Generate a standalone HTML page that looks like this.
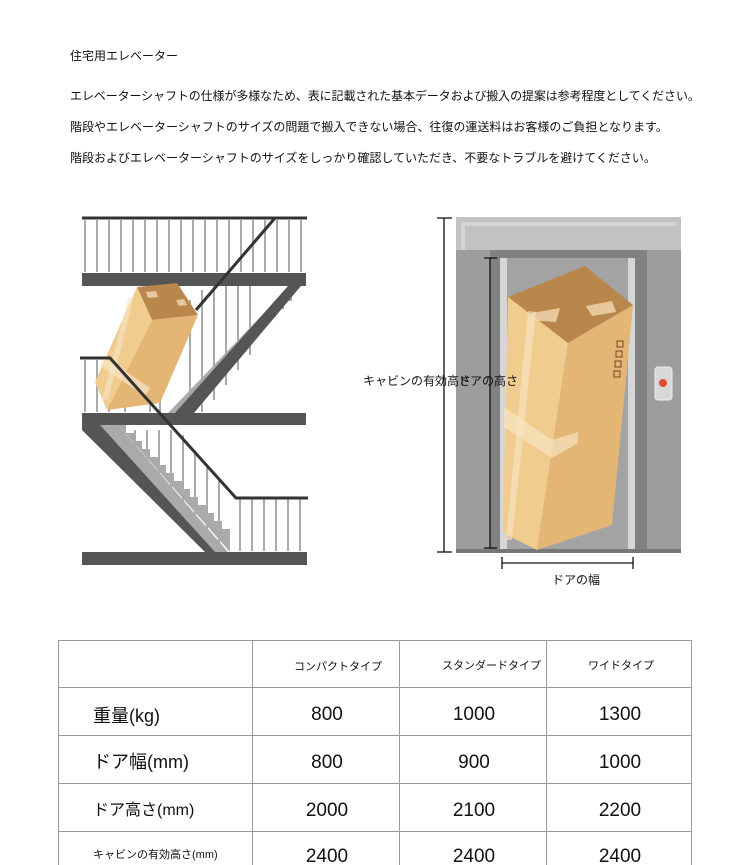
<!DOCTYPE html>
<html><head><meta charset="utf-8"><style>
body{margin:0;width:750px;height:865px;background:#fff;overflow:hidden;position:relative;font-family:"Liberation Sans","Noto Sans CJK JP",sans-serif;color:#111}
.t{position:absolute;font-size:12px;white-space:nowrap;line-height:14px}
svg{position:absolute;left:0;top:0}
</style></head><body>
<div class="t" style="left:70px;top:49px">住宅用エレベーター</div>
<div class="t" style="left:70px;top:89px;letter-spacing:-0.1px">エレベーターシャフトの仕様が多様なため、表に記載された基本データおよび搬入の提案は参考程度としてください。</div>
<div class="t" style="left:70px;top:120px">階段やエレベーターシャフトのサイズの問題で搬入できない場合、往復の運送料はお客様のご負担となります。</div>
<div class="t" style="left:70px;top:151px">階段およびエレベーターシャフトのサイズをしっかり確認していただき、不要なトラブルを避けてください。</div>

<svg width="750" height="865" viewBox="0 0 750 865">
<!-- STAIRS -->
<g stroke="#aaa" stroke-width="2">
<line x1="85" y1="220" x2="85" y2="272"/><line x1="97" y1="220" x2="97" y2="272"/><line x1="109" y1="220" x2="109" y2="272"/><line x1="121" y1="220" x2="121" y2="272"/><line x1="133" y1="220" x2="133" y2="272"/><line x1="145" y1="220" x2="145" y2="272"/><line x1="157" y1="220" x2="157" y2="272"/><line x1="169" y1="220" x2="169" y2="272"/><line x1="181" y1="220" x2="181" y2="272"/><line x1="193" y1="220" x2="193" y2="272"/><line x1="205" y1="220" x2="205" y2="272"/><line x1="217" y1="220" x2="217" y2="272"/><line x1="229" y1="220" x2="229" y2="272"/><line x1="241" y1="220" x2="241" y2="272"/><line x1="253" y1="220" x2="253" y2="272"/><line x1="265" y1="220" x2="265" y2="272"/><line x1="277" y1="220" x2="277" y2="272"/><line x1="289" y1="220" x2="289" y2="272"/><line x1="301" y1="220" x2="301" y2="272"/>
<line x1="190" y1="300" x2="190" y2="412"/><line x1="202" y1="290" x2="202" y2="412"/><line x1="214" y1="285" x2="214" y2="400"/><line x1="226" y1="280" x2="226" y2="385"/><line x1="238" y1="280" x2="238" y2="370"/><line x1="250" y1="280" x2="250" y2="355"/>
<line x1="85" y1="360" x2="85" y2="412"/><line x1="97" y1="360" x2="97" y2="412"/><line x1="109" y1="360" x2="109" y2="412"/>
<line x1="125" y1="370" x2="125" y2="412"/><line x1="150" y1="380" x2="150" y2="412"/><line x1="160" y1="385" x2="160" y2="412"/>
<line x1="135" y1="430" x2="135" y2="455"/><line x1="147" y1="430" x2="147" y2="470"/><line x1="159" y1="430" x2="159" y2="485"/><line x1="171" y1="430" x2="171" y2="500"/><line x1="183" y1="435" x2="183" y2="515"/><line x1="195" y1="450" x2="195" y2="530"/><line x1="207" y1="465" x2="207" y2="545"/><line x1="219" y1="480" x2="219" y2="550"/>
<line x1="240" y1="498" x2="240" y2="551"/><line x1="252" y1="498" x2="252" y2="551"/><line x1="264" y1="498" x2="264" y2="551"/><line x1="276" y1="498" x2="276" y2="551"/><line x1="288" y1="498" x2="288" y2="551"/><line x1="300" y1="498" x2="300" y2="551"/>
</g>
<polygon points="168,413 290,286 295,286 182,413" fill="#aaa"/>
<path d="M180,413 L180,405 L188,405 L188,397 L196,397 L196,389 L204,389 L204,381 L212,381 L212,373 L220,373 L220,365 L228,365 L228,357 L236,357 L236,349 L244,349 L244,341 L252,341 L252,333 L260,333 L260,325 L268,325 L268,317 L276,317 L276,309 L284,309 L284,301 L292,301 L292,293 L300,286 L175,413 Z" fill="#aaa"/>
<polygon points="100,425 118,425 228,552 210,552" fill="#aaa"/>
<path d="M118,425 L126,425 L126,433 L134,433 L134,441 L142,441 L142,449 L150,449 L150,457 L158,457 L158,465 L166,465 L166,473 L174,473 L174,481 L182,481 L182,489 L190,489 L190,497 L198,497 L198,505 L206,505 L206,513 L214,513 L214,521 L222,521 L222,529 L230,529 L230,552 Z" fill="#aaa"/>
<rect x="82" y="273" width="224" height="13" fill="#555"/>
<rect x="82" y="413" width="224" height="12" fill="#555"/>
<rect x="82" y="552" width="225" height="13" fill="#555"/>
<polygon points="288,286 306,286 306,280 194,413 175,413" fill="#555"/>
<polygon points="82,425 100,425 215,552 205,552 82,430" fill="#555"/>
<!-- box on stairs -->
<polygon points="137,287 177,283 198,315 152,320" fill="#b9874c"/>
<polygon points="95,382 137,287 152,320 107,410" fill="#f0cc8e"/>
<polygon points="152,320 198,315 160,403 107,410" fill="#e3b676"/>
<polygon points="104,356 150,388 145,396 100,366" fill="#f7e6c6" opacity=".7"/>
<polygon points="128,298 134,296 108,400 102,400" fill="#f7e6c6" opacity=".6"/>
<polygon points="146,292 156,291 158,297 148,298" fill="#f3d8b0" opacity=".8"/>
<polygon points="176,300 184,299 187,305 179,306" fill="#f3d8b0" opacity=".8"/>
<!-- rails -->
<g stroke="#333" stroke-width="3" fill="none">
<line x1="82" y1="218" x2="307" y2="218"/>
<polyline points="275,218 196,310"/>
<polyline points="80,358 110,358 236,498 308,498"/>
</g>

<!-- ELEVATOR -->
<rect x="456" y="217" width="225" height="335" fill="#9d9d9d"/>
<rect x="456" y="217" width="225" height="33" fill="#c2c2c2"/>
<polygon points="461,222 676,222 676,226 465,226 465,250 461,250" fill="#d4d4d4"/>
<rect x="490" y="250" width="157" height="302" fill="#818181"/>
<rect x="500" y="258" width="135" height="294" fill="#d6d6d6"/>
<rect x="507" y="258" width="121" height="294" fill="#a3a3a3"/>
<rect x="456" y="549" width="225" height="4" fill="#777"/>
<rect x="655" y="367" width="17" height="33" rx="3" fill="#d8d8d8" stroke="#eee"/>
<circle cx="663" cy="383" r="4" fill="#e04a2e"/>
<polygon points="508,297 585,266 633,305 568,343" fill="#b9874c"/>
<polygon points="508,297 568,343 537,550 503,533" fill="#f0cc8e"/>
<polygon points="568,343 633,305 612,525 537,550" fill="#e3b676"/>
<polygon points="532,313 560,308 556,322 528,320" fill="#f3d8b0" opacity=".8"/>
<polygon points="586,306 612,301 616,312 592,316" fill="#f3d8b0" opacity=".8"/>
<polygon points="528,311 536,312 512,540 506,540" fill="#f7e6c6" opacity=".6"/>
<polygon points="504,407 552,440 578,432 578,443 552,458 504,427" fill="#f7e6c6" opacity=".65"/>
<g fill="none" stroke="#6b4a20" stroke-width="1"><rect x="617" y="341" width="6" height="6"/><rect x="616" y="351" width="6" height="6"/><rect x="615" y="361" width="6" height="6"/><rect x="614" y="371" width="6" height="6"/></g>
<g stroke="#111" stroke-width="1.3">
<line x1="444" y1="218" x2="444" y2="552"/><line x1="437" y1="218" x2="452" y2="218"/><line x1="437" y1="552" x2="452" y2="552"/>
<line x1="490" y1="258" x2="490" y2="548"/><line x1="484" y1="258" x2="497" y2="258"/><line x1="484" y1="548" x2="497" y2="548"/>
<line x1="502" y1="563" x2="633" y2="563"/><line x1="502" y1="557" x2="502" y2="569"/><line x1="633" y1="557" x2="633" y2="569"/>
</g>
<text x="363" y="385" font-size="12" font-family="Liberation Sans,Noto Sans CJK JP,sans-serif" fill="#111">キャビンの有効高さ</text>
<text x="458" y="385" font-size="12" font-family="Liberation Sans,Noto Sans CJK JP,sans-serif" fill="#111">ドアの高さ</text>
<text x="552" y="584" font-size="12" font-family="Liberation Sans,Noto Sans CJK JP,sans-serif" fill="#111">ドアの幅</text>

<!-- TABLE -->
<g stroke="#999" stroke-width="1">
<line x1="58" y1="640.5" x2="692" y2="640.5"/><line x1="58" y1="687.5" x2="692" y2="687.5"/><line x1="58" y1="735.5" x2="692" y2="735.5"/><line x1="58" y1="783.5" x2="692" y2="783.5"/><line x1="58" y1="831.5" x2="692" y2="831.5"/>
<line x1="58.5" y1="640" x2="58.5" y2="865"/><line x1="252.5" y1="640" x2="252.5" y2="865"/><line x1="399.5" y1="640" x2="399.5" y2="865"/><line x1="546.5" y1="640" x2="546.5" y2="865"/><line x1="691.5" y1="640" x2="691.5" y2="865"/>
</g>
<g font-family="Liberation Sans,Noto Sans CJK JP,sans-serif" fill="#111">
<text x="294" y="670" font-size="11">コンパクトタイプ</text>
<text x="442" y="669" font-size="11">スタンダードタイプ</text>
<text x="588" y="669" font-size="11">ワイドタイプ</text>
<text x="93" y="722" font-size="18">重量(kg)</text>
<text x="93" y="768" font-size="18">ドア幅(mm)</text>
<text x="93" y="815" font-size="16">ドア高さ(mm)</text>
<text x="93" y="858" font-size="11">キャビンの有効高さ(mm)</text>
<g font-size="19" text-anchor="middle">
<text x="327" y="720">800</text><text x="474" y="720">1000</text><text x="620" y="720">1300</text>
<text x="327" y="768">800</text><text x="474" y="768">900</text><text x="620" y="768">1000</text>
<text x="327" y="816">2000</text><text x="474" y="816">2100</text><text x="620" y="816">2200</text>
<text x="327" y="862">2400</text><text x="474" y="862">2400</text><text x="620" y="862">2400</text>
</g></g>
</svg>
</body></html>
